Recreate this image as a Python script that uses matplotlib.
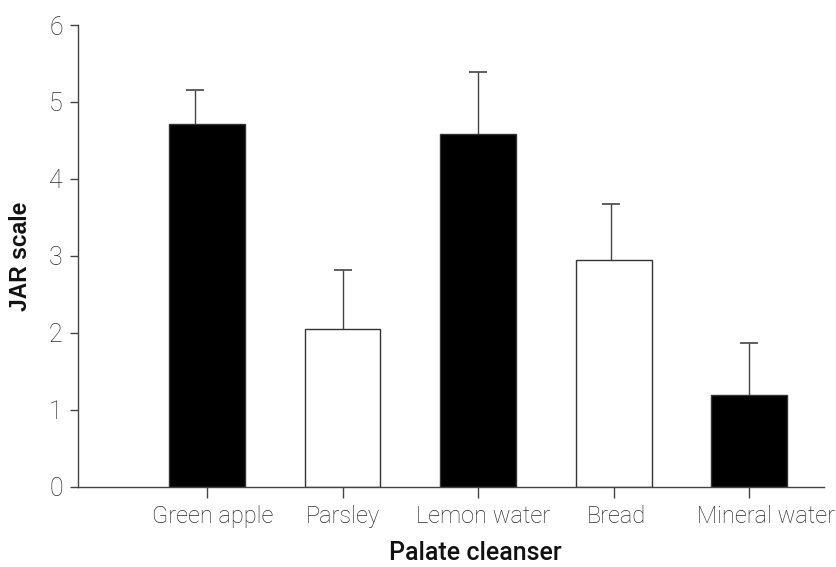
import numpy as np
import matplotlib
matplotlib.use("Agg")
import matplotlib.pyplot as plt
import matplotlib.transforms as mtransforms

# -----------------------------------------------------------------------------
# data
# -----------------------------------------------------------------------------
cleansers = ["Green apple", "Parsley", "Lemon water", "Bread", "Mineral water"]
jar_mean = [4.72, 2.05, 4.59, 2.94, 1.19]
jar_err = [0.43, 0.76, 0.80, 0.74, 0.68]
bar_colors = ["black", "white", "black", "white", "black"]

yticks = [0, 1, 2, 3, 4, 5, 6]

# -----------------------------------------------------------------------------

plt.rcParams["font.family"] = ["Roboto", "DejaVu Sans"]

fig = plt.figure(figsize=(8.37, 5.67), dpi=100)
ax = fig.add_axes([0.0932, 0.1416, 0.8913, 0.8143])

x = np.arange(len(cleansers))
ax.bar(x, jar_mean, width=0.56, color=bar_colors, edgecolor="#333333",
       linewidth=1.0, zorder=2)

# error bars are upper-only, first one sits a little left of its bar
err_x = x + np.array([-0.09, 0, 0, -0.02, 0])
_, caps, _ = ax.errorbar(err_x, jar_mean,
                         yerr=[np.zeros(len(jar_err)), jar_err],
                         fmt="none", ecolor="#444444", elinewidth=1.0,
                         capsize=6.5, capthick=1.2, zorder=1)
caps[0].set_visible(False)   # no lower caps

ax.set_xlim(-0.95, 4.55)
ax.set_ylim(0, 6)
ax.set_yticks(yticks)
ax.set_xticks(x)
ax.set_xticklabels(cleansers)

for side in ("top", "right"):
    ax.spines[side].set_visible(False)
for side in ("left", "bottom"):
    ax.spines[side].set_color("#444444")
    ax.spines[side].set_linewidth(1.0)

ax.tick_params(axis="y", length=6, width=1, color="#444444", pad=5,
               labelsize=18, labelcolor="#2a2a2a")
ax.tick_params(axis="x", length=8, width=1, color="#444444", pad=5,
               labelsize=17, labelcolor="#2a2a2a")
for lab in ax.get_xticklabels() + ax.get_yticklabels():
    lab.set_fontweight("light")

# labels in the reference sit slightly right of their ticks
label_shift_px = [6, 0, 5, 3, 17]
for lab, dx in zip(ax.get_xticklabels(), label_shift_px):
    lab.set_transform(lab.get_transform()
                      + mtransforms.ScaledTranslation(dx / 100, 0, fig.dpi_scale_trans))

ax.set_ylabel("JAR scale", fontsize=16.5, fontweight="bold", color="#111111",
              family=["Liberation Sans", "DejaVu Sans"], labelpad=12)
ax.set_xlabel("Palate cleanser", fontsize=18, fontweight="medium",
              color="#111111")
ax.xaxis.set_label_coords(0.533, -0.118, transform=ax.transAxes)
ax.xaxis.label.set_va("top")

fig.savefig("out.png", dpi=100)
